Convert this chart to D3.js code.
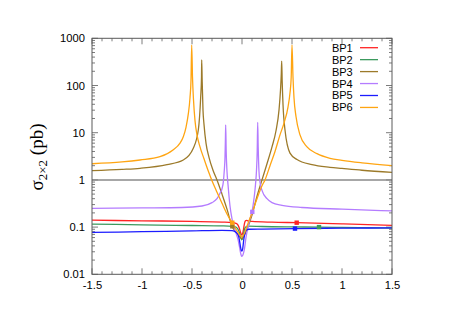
<!DOCTYPE html>
<html>
<head>
<meta charset="utf-8">
<script src="https://cdn.jsdelivr.net/npm/d3@7"></script>
<style>
  html, body { margin: 0; padding: 0; background: #fff; }
  #chart svg { display: block; }
</style>
</head>
<body>
<div id="chart"></div>
<script>
// series, [x, sigma in pb]
const seriesNames = ['BP1', 'BP2', 'BP3', 'BP4', 'BP5', 'BP6'];
const seriesColors = ['#ff2424', '#3c9a5e', '#9c7a2a', '#b47cff', '#1c1cff', '#ffa512'];

const bp1 = [[-1.5, 0.14], [-1.0, 0.136], [-0.5, 0.132], [-0.2, 0.128], [-0.1, 0.125], [-0.06, 0.12],
  [-0.04, 0.11], [-0.025, 0.092], [-0.015, 0.078], [-0.005, 0.068], [0.005, 0.072], [0.015, 0.09],
  [0.025, 0.12], [0.035, 0.136], [0.045, 0.139], [0.06, 0.135], [0.1, 0.132], [0.3, 0.127],
  [0.55, 0.124], [1.0, 0.117], [1.5, 0.109]];

const bp2 = [[-1.5, 0.116], [-1.0, 0.112], [-0.5, 0.108], [-0.2, 0.106], [-0.1, 0.104], [-0.06, 0.1],
  [-0.04, 0.09], [-0.025, 0.075], [-0.012, 0.06], [-0.003, 0.054], [0.005, 0.056], [0.015, 0.07],
  [0.025, 0.09], [0.04, 0.102], [0.06, 0.105], [0.2, 0.103], [0.5, 0.101], [0.77, 0.1],
  [1.0, 0.098], [1.5, 0.095]];

const bp3 = [[-1.5, 1.57], [-1.2, 1.67], [-1.02, 1.76], [-0.75, 2.1], [-0.587, 2.64], [-0.487, 4.7],
  [-0.437, 11.4], [-0.413, 58], [-0.405, 150], [-0.403, 347], [-0.398, 120], [-0.39, 30],
  [-0.38, 15], [-0.36, 6], [-0.33, 3], [-0.29, 1.6], [-0.25, 1.0], [-0.2, 0.5], [-0.15, 0.24],
  [-0.1, 0.104], [-0.06, 0.078], [-0.03, 0.065], [-0.01, 0.058], [0.0, 0.057], [0.02, 0.065],
  [0.05, 0.09], [0.1, 0.18], [0.15, 0.45], [0.2, 1.0], [0.25, 2.2], [0.3, 5], [0.34, 11],
  [0.37, 30], [0.385, 80], [0.393, 180], [0.397, 330], [0.402, 120], [0.41, 40], [0.43, 11.4],
  [0.48, 3.7], [0.55, 2.7], [0.7, 2.1], [0.88, 1.85], [1.0, 1.75], [1.2, 1.6], [1.5, 1.45]];

const bp4 = [[-1.5, 0.25], [-1.0, 0.255], [-0.6, 0.26], [-0.4, 0.28], [-0.3, 0.33], [-0.25, 0.4],
  [-0.22, 0.52], [-0.2, 0.65], [-0.187, 0.9], [-0.177, 1.6], [-0.17, 3], [-0.166, 7], [-0.163, 14.6],
  [-0.158, 4], [-0.15, 1.5], [-0.14, 0.8], [-0.13, 0.45], [-0.12, 0.28], [-0.1, 0.15], [-0.08, 0.1],
  [-0.06, 0.075], [-0.04, 0.055], [-0.025, 0.038], [-0.012, 0.027], [-0.003, 0.024], [0.01, 0.026],
  [0.025, 0.035], [0.04, 0.06], [0.06, 0.1], [0.08, 0.15], [0.1, 0.21], [0.12, 0.4], [0.135, 0.8],
  [0.145, 1.6], [0.152, 4], [0.157, 16.6], [0.162, 5], [0.17, 1.5], [0.18, 0.9], [0.2, 0.6],
  [0.25, 0.4], [0.3, 0.33], [0.4, 0.29], [0.6, 0.26], [1.0, 0.24], [1.5, 0.22]];

const bp5 = [[-1.5, 0.077], [-1.0, 0.08], [-0.5, 0.083], [-0.2, 0.085], [-0.1, 0.084], [-0.07, 0.08],
  [-0.05, 0.074], [-0.035, 0.065], [-0.025, 0.052], [-0.015, 0.038], [-0.007, 0.032], [0.0, 0.031],
  [0.008, 0.036], [0.018, 0.055], [0.03, 0.075], [0.045, 0.087], [0.07, 0.09], [0.2, 0.091],
  [0.53, 0.093], [1.0, 0.095], [1.5, 0.096]];

const bp6 = [[-1.5, 2.2], [-1.2, 2.4], [-1.02, 2.64], [-0.82, 3.1], [-0.69, 4.3], [-0.62, 6],
  [-0.587, 8.2], [-0.56, 13], [-0.537, 25], [-0.52, 55], [-0.51, 130], [-0.503, 720],
  [-0.495, 150], [-0.485, 50], [-0.47, 18], [-0.45, 9], [-0.42, 5], [-0.38, 2.8], [-0.34, 1.6],
  [-0.303, 1.0], [-0.25, 0.55], [-0.2, 0.32], [-0.15, 0.19], [-0.1, 0.124], [-0.06, 0.09],
  [-0.03, 0.072], [-0.01, 0.064], [0.0, 0.062], [0.03, 0.08], [0.06, 0.12], [0.1, 0.2],
  [0.15, 0.4], [0.2, 0.75], [0.23, 1.0], [0.28, 2], [0.33, 4], [0.38, 9], [0.42, 16], [0.46, 35],
  [0.48, 70], [0.492, 150], [0.5, 720], [0.51, 150], [0.52, 55], [0.54, 22], [0.58, 9],
  [0.65, 5], [0.75, 3.6], [0.88, 2.87], [1.0, 2.6], [1.2, 2.3], [1.5, 2.0]];

const seriesData = [bp1, bp2, bp3, bp4, bp5, bp6];

// single points drawn as small squares: [x, sigma, series index]
const markerPoints = [[0.547, 0.124, 0], [0.77, 0.1, 1], [-0.097, 0.104, 2], [0.103, 0.21, 3],
  [0.53, 0.093, 4], [-0.097, 0.124, 5]];

const xTicks = [-1.5, -1, -0.5, 0, 0.5, 1, 1.5];
const xTickLabels = ['-1.5', '-1', '-0.5', '0', '0.5', '1', '1.5'];
const yTicks = [0.01, 0.1, 1, 10, 100, 1000];
const yTickLabels = ['0.01', '0.1', '1', '10', '100', '1000'];
const referenceLevel = 1;

class CrossSectionChart {

    constructor(containerId) {
        this.containerId = containerId;
        this.width = 452;
        this.height = 320;
        this.margin = {top: 38.3, right: 60, bottom: 45.7, left: 92};
    }

    draw() {
        const m = this.margin;
        const innerW = this.width - m.left - m.right;
        const innerH = this.height - m.top - m.bottom;

        const svg = d3.select(`#${this.containerId}`).append('svg')
            .attr('width', this.width)
            .attr('height', this.height);

        const x = d3.scaleLinear().domain([-1.5, 1.5]).range([m.left, m.left + innerW]);
        const y = d3.scaleLog().domain([0.01, 1000]).range([m.top + innerH, m.top]);

        svg.append('clipPath').attr('id', 'plot-clip')
            .append('rect')
            .attr('x', m.left).attr('y', m.top)
            .attr('width', innerW).attr('height', innerH);

        const font = "'Liberation Sans', Arial, sans-serif";
        const frame = '#5a5a5a';

        // minor ticks, inward on all sides
        const xMinor = d3.range(-15, 16).map(d => d / 10);
        const yMinor = [];
        for (let e = -2; e < 3; e++)
            for (let k = 2; k < 10; k++) yMinor.push(k * Math.pow(10, e));

        const ticks = svg.append('g').attr('stroke', frame).attr('stroke-width', 0.8);
        xMinor.forEach(v => {
            const len = xTicks.some(t => Math.abs(t - v) < 1e-9) ? 6 : 3;
            ticks.append('line').attr('x1', x(v)).attr('x2', x(v))
                .attr('y1', m.top + innerH).attr('y2', m.top + innerH - len);
            ticks.append('line').attr('x1', x(v)).attr('x2', x(v))
                .attr('y1', m.top).attr('y2', m.top + len);
        });
        yTicks.concat(yMinor).forEach(v => {
            const len = yTicks.includes(v) ? 6 : 3;
            ticks.append('line').attr('y1', y(v)).attr('y2', y(v))
                .attr('x1', m.left).attr('x2', m.left + len);
            ticks.append('line').attr('y1', y(v)).attr('y2', y(v))
                .attr('x1', m.left + innerW).attr('x2', m.left + innerW - len);
        });

        // tick labels through d3 axes with the lines hidden
        const xAxis = svg.append('g')
            .attr('transform', `translate(0, ${m.top + innerH})`)
            .call(d3.axisBottom(x).tickValues(xTicks).tickSize(0).tickPadding(7)
                .tickFormat((d, i) => xTickLabels[i]));
        const yAxis = svg.append('g')
            .attr('transform', `translate(${m.left}, 0)`)
            .call(d3.axisLeft(y).tickValues(yTicks).tickSize(0).tickPadding(7)
                .tickFormat((d, i) => yTickLabels[i]));
        [xAxis, yAxis].forEach(a => {
            a.select('.domain').remove();
            a.selectAll('text').attr('font-family', font).attr('font-size', 11.2).attr('fill', '#000');
        });

        const plot = svg.append('g').attr('clip-path', 'url(#plot-clip)');

        plot.append('line')
            .attr('x1', m.left).attr('x2', m.left + innerW)
            .attr('y1', y(referenceLevel)).attr('y2', y(referenceLevel))
            .attr('stroke', '#8a8a8a').attr('stroke-width', 1.5);

        const line = d3.line()
            .x(d => x(d[0]))
            .y(d => y(d[1]))
            .curve(d3.curveMonotoneX);

        seriesData.forEach((data, i) => {
            plot.append('path')
                .attr('d', line(data))
                .attr('fill', 'none')
                .attr('stroke', seriesColors[i])
                .attr('stroke-width', 1.3)
                .attr('stroke-linejoin', 'round');
        });

        plot.selectAll('rect.marker').data(markerPoints).join('rect')
            .attr('class', 'marker')
            .attr('x', d => x(d[0]) - 2.2).attr('y', d => y(d[1]) - 2.2)
            .attr('width', 4.4).attr('height', 4.4)
            .attr('fill', d => seriesColors[d[2]]);

        svg.append('rect')
            .attr('x', m.left).attr('y', m.top)
            .attr('width', innerW).attr('height', innerH)
            .attr('fill', 'none').attr('stroke', frame).attr('stroke-width', 1);

        // legend
        const legend = svg.append('g');
        seriesNames.forEach((name, i) => {
            const ly = 47.7 + i * 11.95;
            legend.append('text')
                .attr('x', 352.7).attr('y', ly).attr('dy', '0.36em')
                .attr('text-anchor', 'end')
                .attr('font-family', font).attr('font-size', 11)
                .text(name);
            legend.append('line')
                .attr('x1', 360).attr('x2', 378)
                .attr('y1', ly).attr('y2', ly)
                .attr('stroke', seriesColors[i]).attr('stroke-width', 1.3);
        });

        // y title
        const title = svg.append('text')
            .attr('transform', 'translate(43, 157) rotate(-90)')
            .attr('text-anchor', 'middle')
            .attr('font-family', "'Liberation Serif', 'Times New Roman', serif")
            .attr('font-size', 19);
        title.append('tspan').text('σ');
        title.append('tspan').attr('font-size', 13).attr('dy', 4).text('2×2');
        title.append('tspan').attr('dy', -4).text(' (pb)');
    }
}

new CrossSectionChart('chart').draw();
</script>
</body>
</html>
